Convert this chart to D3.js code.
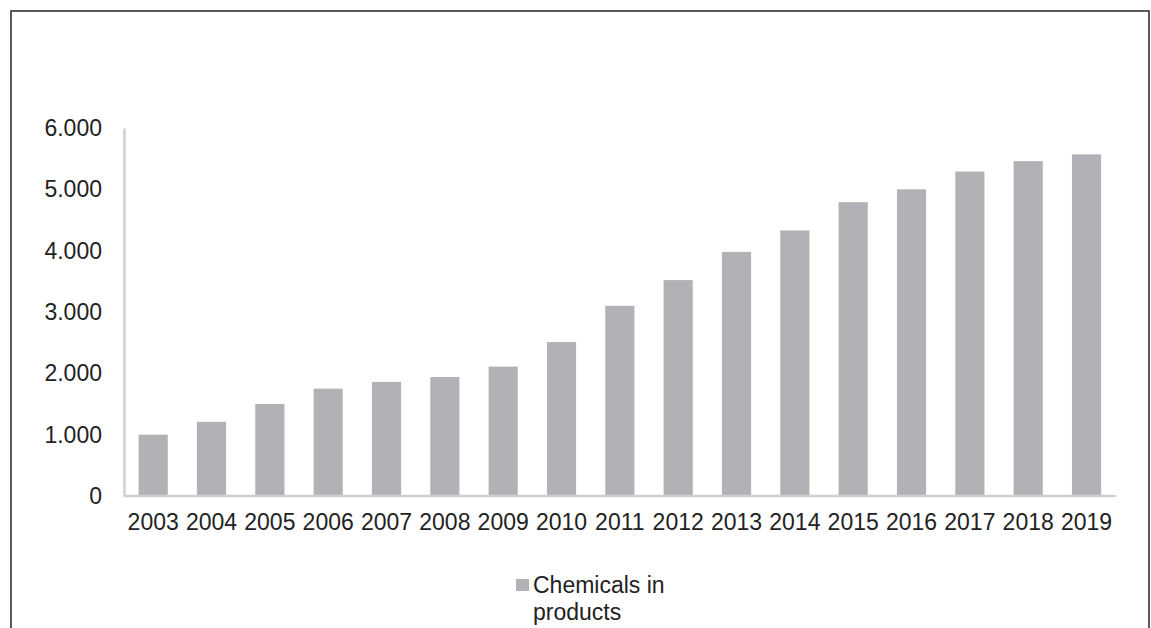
<!DOCTYPE html>
<html>
<head>
<meta charset="utf-8">
<script src="https://cdn.jsdelivr.net/npm/d3@7"></script>
<style>
  body { margin: 0; background: #fff; }
  svg { display: block; font-family: "Liberation Sans", Arial, sans-serif; }
</style>
</head>
<body>
<script>
// chart data
var years = ["2003", "2004", "2005", "2006", "2007", "2008", "2009", "2010", "2011",
             "2012", "2013", "2014", "2015", "2016", "2017", "2018", "2019"];
var chemicals = [1000, 1210, 1500, 1750, 1860, 1940, 2110, 2510, 3100,
                 3520, 3980, 4330, 4790, 5000, 5290, 5460, 5570];
var yTicks = [0, 1000, 2000, 3000, 4000, 5000, 6000];
var seriesName = ["Chemicals in", "products"];

var width = 1151,
    height = 628;

var svg = d3.select("body").append("svg")
    .attr("width", width)
    .attr("height", height);

// outer frame (bottom edge runs off the picture)
svg.append("rect")
    .attr("x", 11)
    .attr("y", 11)
    .attr("width", 1138)
    .attr("height", 660)
    .attr("fill", "none")
    .attr("stroke", "#333")
    .attr("stroke-width", 1.6);

var x = d3.scaleBand()
    .domain(years)
    .range([124, 1115.7])
    .paddingInner(0.5)
    .paddingOuter(0.25);

var y = d3.scaleLinear()
    .domain([0, 6000])
    .range([496, 128]);

var fmt = function(d) { return d3.format(",")(d).replace(/,/g, "."); };

// bars
svg.selectAll(".bar")
    .data(chemicals)
  .enter().append("rect")
    .attr("class", "bar")
    .attr("x", function(d, i) { return x(years[i]); })
    .attr("y", function(d) { return y(d); })
    .attr("width", x.bandwidth())
    .attr("height", function(d) { return y(0) - y(d); })
    .attr("fill", "#b1b2b5");

// y axis
var yAxis = svg.append("g")
    .attr("transform", "translate(124,0)")
    .call(d3.axisLeft(y).tickValues(yTicks).tickFormat(fmt).tickSize(0).tickPadding(22));
yAxis.select(".domain").attr("stroke", "#cfcfcf").attr("stroke-width", 2.5);
yAxis.selectAll("text")
    .attr("fill", "#222")
    .style("font-size", "23px");

// x axis
var xAxis = svg.append("g")
    .attr("transform", "translate(0,496)")
    .call(d3.axisBottom(x).tickSize(0).tickPadding(18));
xAxis.select(".domain")
    .attr("d", "M124,0H1115.7")
    .attr("stroke", "#cfcfcf").attr("stroke-width", 2.5);
xAxis.selectAll("text")
    .attr("fill", "#222")
    .style("font-size", "23px");

// legend
var legend = svg.append("g");
legend.append("rect")
    .attr("x", 516)
    .attr("y", 579)
    .attr("width", 13)
    .attr("height", 12)
    .attr("fill", "#b1b2b5");
legend.append("text")
    .attr("x", 533)
    .attr("y", 593)
    .attr("fill", "#222")
    .style("font-size", "23px")
    .selectAll("tspan")
    .data(seriesName)
  .enter().append("tspan")
    .attr("x", 533)
    .attr("dy", function(d, i) { return i ? 27 : 0; })
    .text(function(d) { return d; });
</script>
</body>
</html>
